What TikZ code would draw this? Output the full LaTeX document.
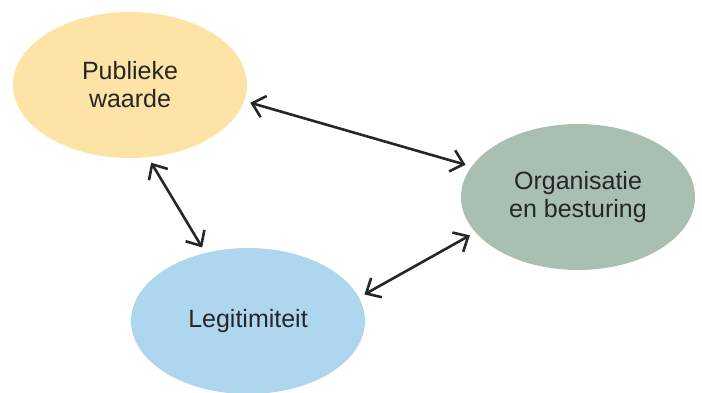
\documentclass[tikz,border=0pt]{standalone}
\usepackage{fontspec}
\setmainfont{Liberation Sans}
\usetikzlibrary{shapes.geometric,arrows.meta}

\definecolor{geel}{HTML}{FDE3A6}
\definecolor{groen}{HTML}{A8BFB1}
\definecolor{blauw}{HTML}{AED6EF}
\definecolor{donker}{HTML}{262626}

\begin{document}
\begin{tikzpicture}[x=0.5pt,y=0.5pt,
  bol/.style={ellipse,inner sep=0pt,minimum width=117pt,minimum height=73pt,
    align=center,text=donker,font=\fontsize{12.5}{14}\selectfont},
  pijl/.style={line width=1.3pt,draw=donker,
    {Straight Barb[length=6pt,width=11pt]}-{Straight Barb[length=6pt,width=11pt]},
    shorten <=3pt,shorten >=3pt}]
\useasboundingbox (0,0) rectangle (702,392);

\node[bol,fill=geel] (pw) at (130,307) {Publieke\\waarde};
\node[bol,fill=groen] (ob) at (578,195) {Organisatie\\en besturing};
\node[bol,fill=blauw] (leg) at (248,71) {Legitimiteit};

%\draw (pw) -- (ob);
\draw[pijl] (pw.-8) -- (ob.164);
\draw[pijl] (pw.-76) -- (leg.122);
\draw[pijl] (ob.199) -- (leg.12);
\end{tikzpicture}
\end{document}
